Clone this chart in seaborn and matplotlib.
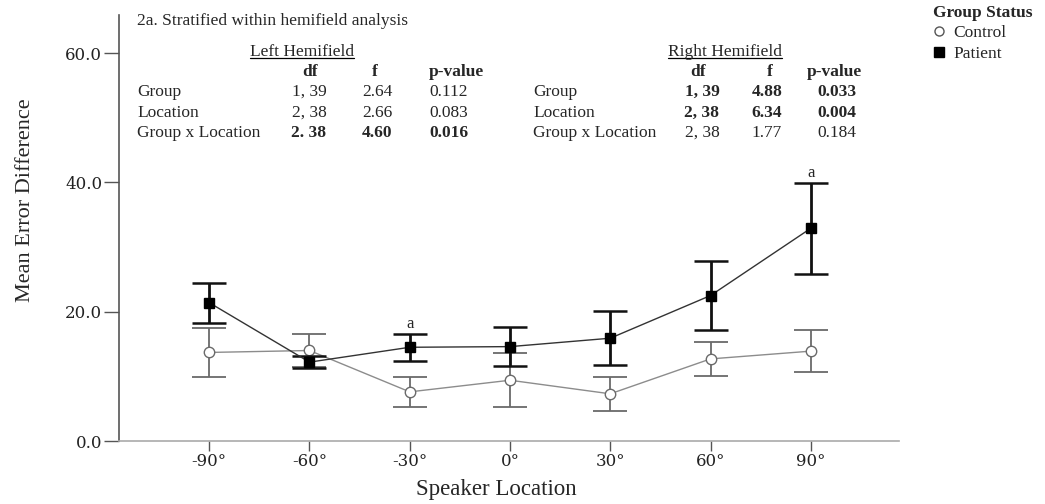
import numpy as np
import pandas as pd
import matplotlib
matplotlib.use("Agg")
import matplotlib.pyplot as plt
import seaborn as sns
from matplotlib.lines import Line2D

# ---------------- data ----------------
locations = [-90, -60, -30, 0, 30, 60, 90]
tick_labels = ["-90°", "-60°", "-30°", "0°", "30°", "60°", "90°"]
control_mean = [13.7, 14.0, 7.6, 9.4, 7.3, 12.7, 13.9]
control_err = [3.8, 2.6, 2.35, 4.2, 2.6, 2.6, 3.25]
patient_mean = [21.4, 12.2, 14.5, 14.6, 15.9, 22.5, 32.9]
patient_err = [3.1, 0.9, 2.1, 3.0, 4.2, 5.3, 7.05]
sig_locations = [-30, 90]
y_ticks = [0, 20, 40, 60]
y_tick_labels = ["0.0", "20.0", "40.0", "60.0"]

title = "2a. Stratified within hemifield analysis"
effects = ["Group", "Location", "Group x Location"]
col_headers = ["df", "f", "p-value"]
left_df = ["1, 39", "2, 38", "2. 38"]
left_f = ["2.64", "2.66", "4.60"]
left_p = ["0.112", "0.083", "0.016"]
left_sig = [False, False, True]
right_df = ["1, 39", "2, 38", "2, 38"]
right_f = ["4.88", "6.34", "1.77"]
right_p = ["0.033", "0.004", "0.184"]
right_sig = [True, True, False]

df = pd.DataFrame({
    "location": locations * 2,
    "mean": control_mean + patient_mean,
    "err": control_err + patient_err,
    "group": ["Control"] * len(locations) + ["Patient"] * len(locations),
})

# ---------------- style ----------------
sns.set_theme(style="white")
plt.rcParams["font.family"] = ["Liberation Serif", "DejaVu Serif"]

W, H = 1045, 504
fig = plt.figure(figsize=(W / 100, H / 100), dpi=100)
ax = fig.add_axes([119 / W, 63 / H, 780 / W, 426 / H])

styles = {
    "Control": dict(color="#8c8c8c", ecolor="#6a6a6a", marker="o", mfc="white",
                    mec="#6a6a6a", ms=7.5, elw=1.3, cth=1.3, zl=2),
    "Patient": dict(color="#333333", ecolor="#111111", marker="s", mfc="black",
                    mec="black", ms=7.5, elw=2.0, cth=1.8, zl=3),
}

for grp in ["Control", "Patient"]:
    sub = df[df["group"] == grp]
    st = styles[grp]
    ax.errorbar(sub["location"], sub["mean"], yerr=sub["err"], fmt="none",
                ecolor=st["ecolor"], elinewidth=st["elw"], capsize=12,
                capthick=st["cth"], zorder=st["zl"])
    sns.lineplot(data=sub, x="location", y="mean", ax=ax, color=st["color"],
                 marker=st["marker"], markersize=st["ms"], markerfacecolor=st["mfc"],
                 markeredgecolor=st["mec"], markeredgewidth=1.0, linewidth=1.0,
                 errorbar=None, zorder=st["zl"] + 1, legend=False)

# significance markers
for loc in sig_locations:
    i = locations.index(loc)
    ax.text(loc, patient_mean[i] + patient_err[i] + 0.9, "a", ha="center",
            va="baseline", fontsize=12)

ax.set_xlim(-117, 116.4)
ax.set_ylim(0, 65.9)
ax.set_xticks(locations)
ax.set_xticklabels(tick_labels)
ax.set_yticks(y_ticks)
ax.set_yticklabels(y_tick_labels)
for lbl in ax.get_xticklabels() + ax.get_yticklabels():
    lbl.set_fontfamily("DejaVu Serif")
    lbl.set_fontsize(12)
    lbl.set_color("#222222")

sns.despine(ax=ax)
ax.spines["left"].set_color("#555555")
ax.spines["left"].set_linewidth(1.2)
ax.spines["bottom"].set_color("#aaaaaa")
ax.spines["bottom"].set_linewidth(1.2)
ax.tick_params(axis="y", length=11, width=1.0, color="#555555", pad=1, left=True)
ax.tick_params(axis="x", length=7, width=1.0, color="#555555", pad=2, bottom=True)
ax.grid(False)

ax.set_xlabel("Speaker Location", fontsize=16.5)
ax.set_ylabel("Mean Error Difference", fontsize=16)
ax.xaxis.set_label_coords((496 - 119) / 780, (441 - 479) / 426)
ax.yaxis.set_label_coords((35 - 119) / 780, 0.566)

# ---------------- header text & tables ----------------
def fx(px):
    return px / W

def fy(py):
    return 1 - py / H

fs = 12.5
fig.text(fx(137), fy(21), title, va="center", ha="left", fontsize=fs)

row_y = [92, 113, 133]
tables = [
    dict(name="Left Hemifield", head_x=302, lab_x=137, col_x=[309, 377, 449],
         hdr_x=[310, 375, 456], dfs=left_df, fs_=left_f, ps=left_p, sig=left_sig),
    dict(name="Right Hemifield", head_x=725, lab_x=533, col_x=[702, 767, 837],
         hdr_x=[698, 770, 834], dfs=right_df, fs_=right_f, ps=right_p, sig=right_sig),
]

heads = []
for tb in tables:
    t = fig.text(fx(tb["head_x"]), fy(52), tb["name"], ha="center", va="center", fontsize=fs)
    heads.append(t)
    for hx, h in zip(tb["hdr_x"], col_headers):
        fig.text(fx(hx), fy(72), h, ha="center", va="center", fontsize=fs, fontweight="bold")
    for r, eff in enumerate(effects):
        w = "bold" if tb["sig"][r] else "normal"
        fig.text(fx(tb["lab_x"]), fy(row_y[r]), eff, ha="left", va="center", fontsize=fs)
        for cx, val in zip(tb["col_x"], [tb["dfs"][r], tb["fs_"][r], tb["ps"][r]]):
            fig.text(fx(cx), fy(row_y[r]), val, ha="center", va="center",
                     fontsize=fs, fontweight=w)

# underline the hemifield headings
fig.canvas.draw()
renderer = fig.canvas.get_renderer()
for t in heads:
    bb = t.get_window_extent(renderer=renderer)
    yline = bb.y0 + 2.5
    fig.add_artist(Line2D([bb.x0 / W, bb.x1 / W], [yline / H, yline / H],
                          transform=fig.transFigure, color="black", lw=0.9))

# ---------------- legend ----------------
handles = [
    Line2D([], [], ls="none", marker="o", mfc="white", mec="#555555", ms=6.5, mew=1.0),
    Line2D([], [], ls="none", marker="s", mfc="black", mec="black", ms=7),
]
leg = fig.legend(handles, ["Control", "Patient"], title="Group Status",
                 loc="upper left", bbox_to_anchor=(fx(933), fy(5)), frameon=False,
                 fontsize=fs, title_fontproperties={"weight": "bold", "size": fs},
                 alignment="left", handlelength=0.7, handletextpad=0.45,
                 labelspacing=0.25, borderpad=0.0, borderaxespad=0.0)

fig.savefig("out.png", dpi=100)
